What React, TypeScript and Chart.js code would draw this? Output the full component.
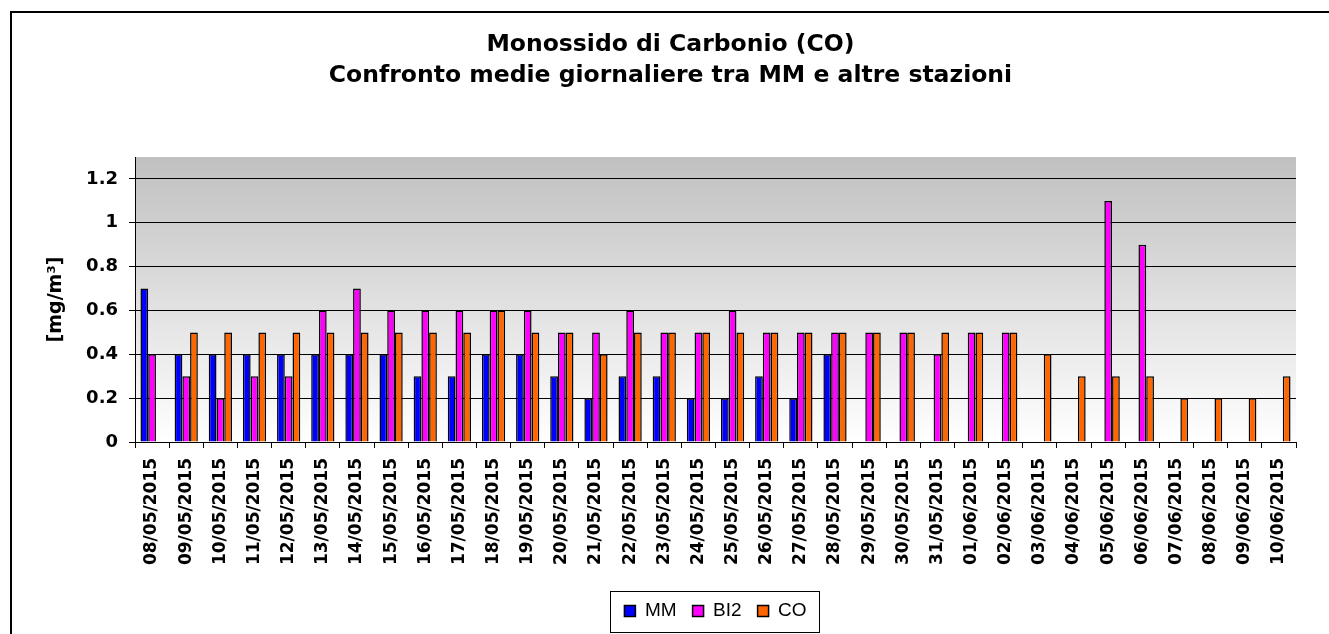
import React, { useEffect, useRef } from "react";
import { Chart, registerables } from "chart.js";

Chart.register(...registerables);

const categories = [
  "08/05/2015", "09/05/2015", "10/05/2015", "11/05/2015", "12/05/2015",
  "13/05/2015", "14/05/2015", "15/05/2015", "16/05/2015", "17/05/2015",
  "18/05/2015", "19/05/2015", "20/05/2015", "21/05/2015", "22/05/2015",
  "23/05/2015", "24/05/2015", "25/05/2015", "26/05/2015", "27/05/2015",
  "28/05/2015", "29/05/2015", "30/05/2015", "31/05/2015", "01/06/2015",
  "02/06/2015", "03/06/2015", "04/06/2015", "05/06/2015", "06/06/2015",
  "07/06/2015", "08/06/2015", "09/06/2015", "10/06/2015",
];

const mmValues: (number | null)[] = [
  0.7, 0.4, 0.4, 0.4, 0.4, 0.4, 0.4, 0.4, 0.3, 0.3,
  0.4, 0.4, 0.3, 0.2, 0.3, 0.3, 0.2, 0.2, 0.3, 0.2,
  0.4, null, null, null, null, null, null, null, null, null,
  null, null, null, null,
];

const bi2Values: (number | null)[] = [
  0.4, 0.3, 0.2, 0.3, 0.3, 0.6, 0.7, 0.6, 0.6, 0.6,
  0.6, 0.6, 0.5, 0.5, 0.6, 0.5, 0.5, 0.6, 0.5, 0.5,
  0.5, 0.5, 0.5, 0.4, 0.5, 0.5, null, null, 1.1, 0.9,
  null, null, null, null,
];

const coValues: (number | null)[] = [
  null, 0.5, 0.5, 0.5, 0.5, 0.5, 0.5, 0.5, 0.5, 0.5,
  0.6, 0.5, 0.5, 0.4, 0.5, 0.5, 0.5, 0.5, 0.5, 0.5,
  0.5, 0.5, 0.5, 0.5, 0.5, 0.5, 0.4, 0.3, 0.3, 0.3,
  0.2, 0.2, 0.2, 0.3,
];

const seriesNames = ["MM", "BI2", "CO"];
const seriesColors = ["#0000FF", "#FF00FF", "#FF6600"];
const titleLines = [
  "Monossido di Carbonio (CO)",
  "Confronto medie giornaliere tra MM e altre stazioni",
];
const yAxisTitle = "[mg/m³]";

const BOLD_FAMILY = "'DejaVu Sans', 'Liberation Sans', Arial, sans-serif";
const LEGEND_FAMILY = "'Liberation Sans', Arial, sans-serif";

const frameAndBackground = {
  id: "frameAndBackground",
  beforeDraw(chart: any) {
    const { ctx, chartArea, width, height } = chart;
    ctx.save();
    ctx.fillStyle = "#ffffff";
    ctx.fillRect(0, 0, width, height);
    ctx.strokeStyle = "#000000";
    ctx.lineWidth = 2;
    ctx.strokeRect(11, 12, width + 10, height + 10);
    const g = ctx.createLinearGradient(0, chartArea.top, 0, chartArea.bottom);
    g.addColorStop(0, "#c0c0c0");
    g.addColorStop(1, "#ffffff");
    ctx.fillStyle = g;
    ctx.fillRect(chartArea.left, chartArea.top, chartArea.right - chartArea.left, chartArea.bottom - chartArea.top);
    ctx.restore();
  },
  afterDraw(chart: any) {
    const legend = chart.legend;
    if (!legend || !legend.legendHitBoxes || !legend.legendHitBoxes.length) return;
    const boxes = legend.legendHitBoxes;
    let minL = Infinity;
    let maxR = -Infinity;
    let center = 0;
    boxes.forEach((b: any) => {
      minL = Math.min(minL, b.left);
      maxR = Math.max(maxR, b.left + b.width);
      center = b.top + b.height / 2;
    });
    const { ctx } = chart;
    ctx.save();
    ctx.strokeStyle = "#000000";
    ctx.lineWidth = 1;
    const left = Math.round(minL - 14) + 0.5;
    const right = Math.round(maxR + 12) + 0.5;
    const top = Math.round(center - 20) + 0.5;
    const bottom = Math.round(center + 21) + 0.5;
    ctx.strokeRect(left, top, right - left, bottom - top);
    ctx.restore();
  },
};

export default function App() {
  const canvasRef = useRef<HTMLCanvasElement | null>(null);

  useEffect(() => {
    if (!canvasRef.current) return;
    const valueSets = [mmValues, bi2Values, coValues];
    const chart = new Chart(canvasRef.current, {
      type: "bar",
      data: {
        labels: categories,
        datasets: seriesNames.map((name, i) => ({
          label: name,
          data: valueSets[i],
          backgroundColor: seriesColors[i],
          borderColor: "#000000",
          borderWidth: 1.5,
          categoryPercentage: 0.68,
          barPercentage: 1.0,
        })),
      },
      options: {
        animation: false,
        responsive: true,
        maintainAspectRatio: false,
        layout: { padding: { left: 45, right: 33, top: 0, bottom: 3.5 } },
        plugins: {
          title: {
            display: true,
            text: titleLines,
            color: "#000000",
            font: { family: BOLD_FAMILY, size: 23.5, weight: "bold", lineHeight: 1.32 },
            padding: { top: 29.5, bottom: 65.5 },
          },
          legend: {
            display: true,
            position: "bottom",
            fullSize: false,
            labels: {
              color: "#000000",
              font: { family: LEGEND_FAMILY, size: 19 },
              boxWidth: 11,
              boxHeight: 11,
              padding: 16,
            },
          },
          tooltip: { enabled: false },
        },
        scales: {
          x: {
            grid: {
              display: true,
              drawOnChartArea: false,
              drawTicks: true,
              tickLength: 6,
              color: "#000000",
              offset: true,
            },
            border: { display: true, color: "#000000", width: 1 },
            ticks: {
              color: "#000000",
              font: { family: BOLD_FAMILY, size: 17, weight: "bold" },
              maxRotation: 90,
              minRotation: 90,
              autoSkip: false,
              padding: 10,
            },
            afterFit: (scale: any) => {
              scale.height = 143.5;
            },
          },
          y: {
            min: 0,
            max: 1.3,
            grid: {
              display: true,
              drawOnChartArea: true,
              drawTicks: true,
              tickLength: 6,
              color: "#000000",
              lineWidth: 1,
            },
            border: { display: true, color: "#000000", width: 1 },
            ticks: {
              stepSize: 0.2,
              includeBounds: false,
              color: "#000000",
              font: { family: BOLD_FAMILY, size: 18, weight: "bold" },
              padding: 11,
              callback: (v: any) => String(Math.round(Number(v) * 10) / 10),
            },
            title: {
              display: true,
              text: yAxisTitle,
              color: "#000000",
              font: { family: BOLD_FAMILY, size: 19, weight: "bold" },
              padding: 0,
            },
            afterFit: (scale: any) => {
              scale.width = 90;
            },
          },
        },
      },
      plugins: [frameAndBackground],
    } as any);
    return () => chart.destroy();
  }, []);

  return (
    <div style={{ position: "absolute", left: 0, top: 0, width: 1329, height: 634, background: "#ffffff" }}>
      <canvas ref={canvasRef} />
    </div>
  );
}
